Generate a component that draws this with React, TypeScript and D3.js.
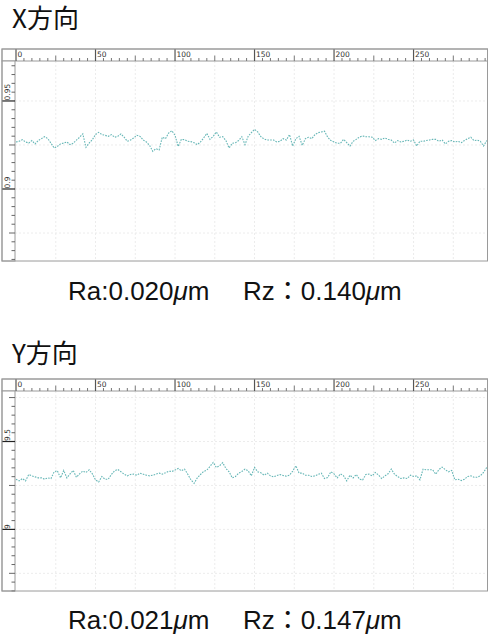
import React from 'react';
import * as d3 from 'd3';

// sample positions along the profile (every 2 units)
const positions = d3.range(0, 297, 2);

const xDirProfile = [
  0.9267, 0.9271, 0.9280, 0.9267, 0.9261, 0.9275, 0.9256, 0.9275, 0.9286, 0.9297,
  0.9286, 0.9260, 0.9233, 0.9242, 0.9256, 0.9261, 0.9267, 0.9252, 0.9260, 0.9278,
  0.9294, 0.9313, 0.9237, 0.9261, 0.9280, 0.9309, 0.9322, 0.9309, 0.9305, 0.9299,
  0.9309, 0.9294, 0.9299, 0.9313, 0.9294, 0.9271, 0.9278, 0.9290, 0.9305, 0.9299,
  0.9278, 0.9267, 0.9248, 0.9214, 0.9229, 0.9222, 0.9294, 0.9286, 0.9318, 0.9331,
  0.9305, 0.9242, 0.9282, 0.9280, 0.9271, 0.9269, 0.9263, 0.9252, 0.9267, 0.9290,
  0.9316, 0.9282, 0.9299, 0.9324, 0.9294, 0.9297, 0.9275, 0.9233, 0.9260, 0.9263,
  0.9275, 0.9297, 0.9252, 0.9299, 0.9320,
  0.9339, 0.9324, 0.9297, 0.9284, 0.9278, 0.9278, 0.9278, 0.9267, 0.9271, 0.9286,
  0.9278, 0.9309, 0.9244, 0.9286, 0.9299, 0.9248, 0.9286, 0.9294, 0.9286, 0.9309,
  0.9320, 0.9324, 0.9328, 0.9294, 0.9275, 0.9267, 0.9260, 0.9260, 0.9282, 0.9263,
  0.9244, 0.9271, 0.9282, 0.9295, 0.9301, 0.9297, 0.9297, 0.9294, 0.9275, 0.9286,
  0.9282, 0.9290, 0.9282, 0.9278, 0.9261, 0.9275, 0.9267, 0.9271, 0.9278, 0.9271,
  0.9278, 0.9244, 0.9271, 0.9271, 0.9275, 0.9278, 0.9282, 0.9282, 0.9271, 0.9278,
  0.9256, 0.9271, 0.9275, 0.9267, 0.9271, 0.9263, 0.9275, 0.9286, 0.9294, 0.9275,
  0.9278, 0.9271, 0.9244, 0.9275,
];

const yDirProfile = [
  9.2855, 9.2759, 9.2893, 9.2759, 9.3123, 9.3046, 9.2989, 9.2931, 9.2931, 9.2855,
  9.2931, 9.2893, 9.3276, 9.3333, 9.2931, 9.3353, 9.2931, 9.3161, 9.3353, 9.2969,
  9.3161, 9.3314, 9.3238, 9.3391, 9.3161, 9.2816, 9.2701, 9.3008, 9.2855, 9.2855,
  9.3123, 9.3333, 9.3410, 9.3276, 9.3142, 9.3046, 9.3123, 9.3142, 9.3084, 9.3199,
  9.3142, 9.3084, 9.3046, 9.3084, 9.3142, 9.3199, 9.3142, 9.3218, 9.3314, 9.3295,
  9.3372, 9.3467, 9.3333, 9.3429, 9.3142, 9.2816, 9.2625, 9.2931, 9.3123, 9.3295,
  9.3372, 9.3582, 9.3812, 9.3525, 9.3621, 9.3793, 9.3467, 9.3276, 9.2931, 9.3008,
  9.3199, 9.3295, 9.3429, 9.3333, 9.3046,
  9.3525, 9.3276, 9.3218, 9.3084, 9.3199, 9.3046, 9.2989, 9.3065, 9.3123, 9.3065,
  9.3027, 9.3084, 9.3314, 9.3621, 9.3199, 9.3199, 9.3084, 9.3084, 9.3008, 9.3046,
  9.3123, 9.3199, 9.2893, 9.2950, 9.3276, 9.3161, 9.2931, 9.3161, 9.3046, 9.2759,
  9.3084, 9.2931, 9.3123, 9.2855, 9.2816, 9.3123, 9.3142, 9.3046, 9.3238, 9.3084,
  9.2893, 9.3046, 9.3161, 9.3429, 9.3142, 9.3008, 9.2893, 9.2931, 9.2893, 9.3084,
  9.3008, 9.3046, 9.2816, 9.3429, 9.3391, 9.3391, 9.3391, 9.3142, 9.3410, 9.3544,
  9.3391, 9.3276, 9.3353, 9.2816, 9.2855, 9.2778, 9.2855, 9.3008, 9.3046, 9.2969,
  9.2969, 9.3046, 9.3238, 9.3525,
];

const xLabels = [0, 50, 100, 150, 200, 250];

const panels = [
  {
    title: 'X方向', ra: '0.020', rz: '0.140', values: xDirProfile,
    yDomain: [0.8591, 0.9727], minor: 0.005, mid: 0.025, major: 0.05,
    top: 49, titleY: 28, textY: 300,
  },
  {
    title: 'Y方向', ra: '0.021', rz: '0.147', values: yDirProfile,
    yDomain: [8.6494, 9.7874], minor: 0.05, mid: 0.25, major: 0.5,
    top: 379, titleY: 363, textY: 629,
  },
];

const Panel = ({ p }) => {
  const left = 2, right = 487.5, ruler = 12, rulerW = 13;
  const plotTop = p.top + ruler;
  const plotBottom = plotTop + 200;
  const x = d3.scaleLinear().domain([0, 296.5]).range([16, right]);
  const y = d3.scaleLinear().domain(p.yDomain).range([plotBottom, plotTop]);
  const px = left + rulerW;

  const near = (v, s) => Math.abs(v / s - Math.round(v / s)) < 1e-6;
  const yTicks = d3.range(Math.ceil(p.yDomain[0] / p.minor), Math.floor(p.yDomain[1] / p.minor) + 1)
    .map(i => +(i * p.minor).toFixed(4));
  const xTicks = d3.range(0, 300, 5);
  const line = d3.line().x((d, i) => x(positions[i])).y(d => y(d));

  return (
    <g>
      <text x={12} y={p.titleY} fontSize={26} fontFamily="'Noto Sans CJK JP', sans-serif" fill="#111">{p.title}</text>

      {/* plot background and grid */}
      <rect x={px} y={plotTop} width={right - px} height={plotBottom - plotTop} fill="#fff" />
      {d3.range(25, 297, 25).map(v => (
        <line key={'gx' + v} x1={x(v)} x2={x(v)} y1={plotTop} y2={plotBottom} stroke="#ececec" strokeDasharray="2,2" />
      ))}
      {yTicks.filter(v => near(v, p.mid)).map(v => (
        <line key={'gy' + v} x1={px} x2={right} y1={y(v)} y2={y(v)} stroke="#ececec" strokeDasharray="2,2" />
      ))}

      <path d={line(p.values)} fill="none" stroke="#4aa9a9" strokeWidth={1.1} strokeDasharray="1.6,1.2" opacity={0.85} />

      {/* top ruler */}
      <rect x={left} y={p.top} width={right - left} height={ruler} fill="#fff" stroke="#9a9a9a" strokeWidth={1} />
      {xTicks.map(v => {
        const isMajor = v % 50 === 0, isMid = v % 25 === 0;
        const len = isMajor ? ruler : isMid ? 5.5 : 3;
        return (
          <line key={'tx' + v} x1={x(v)} x2={x(v)} y1={plotTop} y2={plotTop - len}
            stroke={isMajor ? '#555' : '#777'} strokeWidth={isMajor ? 1.2 : 1} />
        );
      })}
      {xLabels.map(v => (
        <text key={'lx' + v} x={x(v) + 1.5} y={p.top + 8} fontSize={7.5} fontFamily="'DejaVu Sans', sans-serif" fill="#333">{v}</text>
      ))}

      {/* left ruler */}
      <rect x={left} y={plotTop} width={rulerW} height={plotBottom - plotTop} fill="#fff" stroke="#9a9a9a" strokeWidth={1} />
      {yTicks.map(v => {
        const isMajor = near(v, p.major), isMid = near(v, p.mid);
        const len = isMajor ? rulerW : isMid ? 6 : 3.5;
        return (
          <line key={'ty' + v} x1={px} x2={px - len} y1={y(v)} y2={y(v)}
            stroke={isMajor ? '#222' : '#666'} strokeWidth={isMajor ? 1.2 : 1} />
        );
      })}
      {yTicks.filter(v => near(v, p.major)).map(v => (
        <text key={'ly' + v} transform={`translate(${left + 7.5},${y(v) - 0.5}) rotate(-90)`} fontSize={7.5}
          fontFamily="'DejaVu Sans', sans-serif" fill="#333">{String(+v.toFixed(3))}</text>
      ))}

      {/* outer frame */}
      <rect x={left} y={p.top} width={right - left} height={plotBottom - p.top} fill="none" stroke="#9a9a9a" strokeWidth={1} />

      <text x={68} y={p.textY} fontSize={26} fontFamily="'Liberation Sans', Arial, sans-serif" fill="#111">
        Ra:{p.ra}<tspan fontStyle="italic">μ</tspan>m
      </text>
      <text x={243} y={p.textY} fontSize={26} fontFamily="'Liberation Sans', 'Noto Sans CJK JP', sans-serif" fill="#111">
        Rz：{p.rz}<tspan fontStyle="italic">μ</tspan>m
      </text>
    </g>
  );
};

export default function App() {
  return (
    <svg width={491} height={643} style={{ position: 'absolute', left: 0, top: 0, background: '#fff' }}>
      {panels.map(p => <Panel key={p.title} p={p} />)}
    </svg>
  );
}
